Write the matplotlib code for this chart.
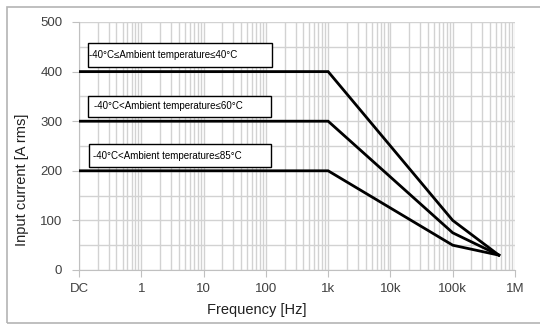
import matplotlib as mpl
mpl.use('Agg')
import matplotlib.pyplot as plt
from matplotlib.patches import Rectangle
from matplotlib.ticker import FixedLocator, NullFormatter

plt.rcParams['font.family'] = ['Liberation Sans', 'DejaVu Sans']

# derating curves (DC plotted at 0.1 Hz)
freq_hz = [0.1, 1000, 100000, 550000]
current_40c = [400, 400, 100, 30]
current_60c = [300, 300, 75, 30]
current_85c = [200, 200, 50, 30]

labels = ["-40°C≤Ambient temperature≤40°C",
          "-40°C<Ambient temperature≤60°C",
          "-40°C<Ambient temperature≤85°C"]

xtick_vals = [0.1, 1, 10, 100, 1e3, 1e4, 1e5, 1e6]
xtick_labels = ["DC", "1", "10", "100", "1k", "10k", "100k", "1M"]
ytick_vals = [0, 100, 200, 300, 400, 500]

fig = plt.figure(figsize=(5.4, 3.25), dpi=100)
# grey frame round the whole chart (open on the right like the source)
fig.patches.append(Rectangle((7/540, 2/325), 1.0, 316/325, transform=fig.transFigure,
                             fill=False, edgecolor="#b4b4b4", linewidth=1.2))
ax = fig.add_axes([79/540, 55/325, 436/540, 248/325])

grid_c = "#d2d2d2"
ax.set_xscale('log')
ax.set_xlim(0.1, 1e6)
ax.set_ylim(0, 500)
ax.xaxis.set_major_locator(FixedLocator(xtick_vals))
ax.set_xticklabels(xtick_labels)
ax.xaxis.set_minor_locator(FixedLocator([m * 10.0**e for e in range(-1, 6) for m in range(2, 10)]))
ax.xaxis.set_minor_formatter(NullFormatter())
ax.set_yticks(ytick_vals)
ax.set_yticks([50, 150, 250, 350, 450], minor=True)
ax.grid(True, which='both', color=grid_c, linewidth=1.0)
ax.set_axisbelow(True)

for s in ['top', 'right']:
    ax.spines[s].set_visible(False)
for s in ['left', 'bottom']:
    ax.spines[s].set_color("#c0c0c0")
ax.tick_params(which='major', length=5, color="#c0c0c0", labelsize=9.5, labelcolor="#404040")
ax.tick_params(axis='x', which='major', pad=4)
ax.tick_params(axis='y', which='major', pad=7)
ax.tick_params(which='minor', length=0)

for ys in [current_40c, current_60c, current_85c]:
    ax.plot(freq_hz, ys, color="black", linewidth=2.0, solid_joinstyle='miter', zorder=3)

# label boxes (axes fractions)
boxes = [(0.021, 0.819, 0.422, 0.096, 0.024),
         (0.021, 0.617, 0.420, 0.085, 0.034),
         (0.023, 0.415, 0.418, 0.093, 0.032)]
for (bx, by, bw, bh, tx), lab in zip(boxes, labels):
    ax.add_patch(Rectangle((bx, by), bw, bh, transform=ax.transAxes, facecolor="white",
                           edgecolor="black", linewidth=1.0, zorder=4))
    ax.text(tx, by + bh / 2, lab, transform=ax.transAxes, fontsize=7, va='center',
            ha='left', color="black", zorder=5)

ax.set_xlabel("Frequency [Hz]", fontsize=10.5, color="#202020")
ax.set_ylabel("Input current [A rms]", fontsize=10.5, color="#202020")
ax.xaxis.set_label_coords(0.408, -0.161)
ax.yaxis.set_label_coords(-0.131, 0.363)
ax.xaxis.label.set_va('center')
ax.yaxis.label.set_va('center')

fig.savefig("out.png", dpi=100)
